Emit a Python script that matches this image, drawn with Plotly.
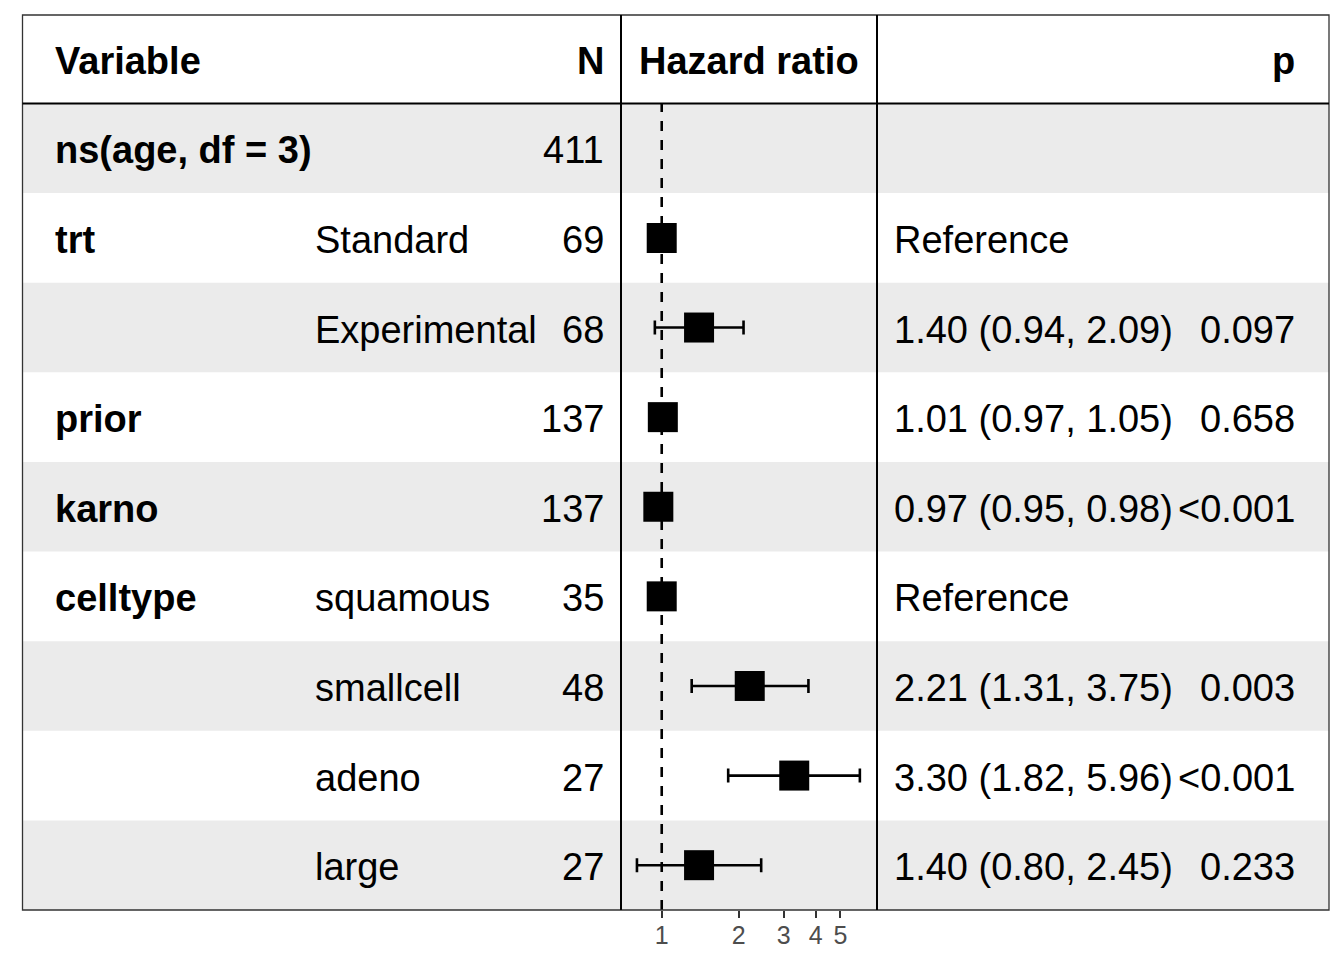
import plotly.graph_objects as go

# ---------------- data ----------------
variables = ["ns(age, df = 3)", "trt", "", "prior", "karno", "celltype", "", "", ""]
levels = ["", "Standard", "Experimental", "", "", "squamous", "smallcell", "adeno", "large"]
n_obs = [411, 69, 68, 137, 137, 35, 48, 27, 27]
hr = [None, 1.0, 1.40, 1.01, 0.97, 1.0, 2.21, 3.30, 1.40]
ci_low = [None, None, 0.94, 0.97, 0.95, None, 1.31, 1.82, 0.80]
ci_high = [None, None, 2.09, 1.05, 0.98, None, 3.75, 5.96, 2.45]
p_text = ["", "", "0.097", "0.658", "<0.001", "", "0.003", "<0.001", "0.233"]
headers = ["Variable", "N", "Hazard ratio", "p"]
tick_vals = [1, 2, 3, 4, 5]

# page body has an 8px margin: figure occupies window pixels 8..1336 x 8..952
OFF = 8
W, H = 1344 - 2 * OFF, 960 - 2 * OFF
FONT = "Liberation Sans, Arial, Helvetica, sans-serif"
FS = 38

def px(x):
    return (x - OFF) / W

def py(y):
    return 1 - (y - OFF) / H

nrows = len(variables)
row_y = [nrows - i for i in range(nrows)]  # top row = 9

# estimate labels
est_text = []
for h, l, u in zip(hr, ci_low, ci_high):
    if h is None:
        est_text.append("")
    elif l is None:
        est_text.append("Reference")
    else:
        est_text.append(f"{h:.2f} ({l:.2f}, {u:.2f})")

# points
xs, ys, eplus, eminus = [], [], [], []
for i in range(nrows):
    if hr[i] is None:
        continue
    xs.append(hr[i])
    ys.append(row_y[i])
    if ci_low[i] is None:
        eplus.append(0)
        eminus.append(0)
    else:
        eplus.append(ci_high[i] - hr[i])
        eminus.append(hr[i] - ci_low[i])

fig = go.Figure()
fig.add_trace(go.Scatter(
    x=xs, y=ys, mode="markers",
    marker=dict(symbol="square", size=30, color="black", line=dict(width=0)),
    error_x=dict(type="data", symmetric=False, array=eplus, arrayminus=eminus,
                 color="black", thickness=2.6, width=7),
    showlegend=False, hoverinfo="skip",
))

shapes = []
# stripes
for i in range(nrows):
    if i % 2 == 0:
        shapes.append(dict(type="rect", xref="paper", yref="y",
                           x0=px(22), x1=px(1329), y0=row_y[i] - 0.5, y1=row_y[i] + 0.5,
                           fillcolor="#EBEBEB", line=dict(width=0), layer="below"))
# dashed reference line
shapes.append(dict(type="line", xref="x", yref="y", x0=1, x1=1, y0=0.5, y1=nrows + 0.5,
                   line=dict(color="black", width=2.6, dash="10px,9px"), layer="below"))
# borders
shapes.append(dict(type="rect", xref="paper", yref="paper",
                   x0=px(22.5), x1=px(1329), y0=py(15), y1=py(910),
                   line=dict(color="#333333", width=1.3), layer="above"))
for xv in (621, 877):
    shapes.append(dict(type="line", xref="paper", yref="paper",
                       x0=px(xv), x1=px(xv), y0=py(15), y1=py(910),
                       line=dict(color="black", width=2), layer="above"))
shapes.append(dict(type="line", xref="paper", yref="paper",
                   x0=px(22.5), x1=px(1329), y0=py(103.5), y1=py(103.5),
                   line=dict(color="black", width=2), layer="above"))

annotations = []
def add_text(text, x, y, anchor, yref="y", bold=False, yshift=0):
    annotations.append(dict(
        text=f"<b>{text}</b>" if bold else text,
        x=px(x), y=y, xref="paper", yref=yref, xanchor=anchor, yanchor="middle",
        showarrow=False, font=dict(family=FONT, size=FS, color="black"),
        borderpad=0, borderwidth=0, yshift=yshift,
    ))

hy = py(61)
add_text(headers[0], 55, hy, "left", yref="paper", bold=True)
add_text(headers[1], 604, hy, "right", yref="paper", bold=True)
add_text(headers[2], 749, hy, "center", yref="paper", bold=True)
add_text(headers[3], 1295, hy, "right", yref="paper", bold=True)

for i in range(nrows):
    y = row_y[i]
    if variables[i]:
        add_text(variables[i], 55, y, "left", bold=True, yshift=-2)
    if levels[i]:
        add_text(levels[i], 315, y, "left", yshift=-2)
    add_text(str(n_obs[i]), 604, y, "right", yshift=-2)
    if est_text[i]:
        add_text(est_text[i], 894, y, "left", yshift=-2)
    if p_text[i]:
        add_text(p_text[i], 1295, y, "right", yshift=-2)

fig.update_layout(
    width=W, height=H,
    margin=dict(l=0, r=0, t=0, b=0),
    paper_bgcolor="white", plot_bgcolor="rgba(0,0,0,0)",
    shapes=shapes, annotations=annotations,
    xaxis=dict(type="log", domain=[px(621), px(877)],
               range=[-0.1593, 0.8423],
               tickvals=tick_vals, ticktext=[str(t) for t in tick_vals],
               ticks="outside", ticklen=7, tickwidth=2, tickcolor="#333333",
               ticklabelstandoff=-4,
               tickfont=dict(family=FONT, size=25, color="#4D4D4D"),
               showgrid=False, zeroline=False, showline=False, fixedrange=True),
    yaxis=dict(domain=[py(910), py(103.5)], range=[0.5, nrows + 0.5],
               showticklabels=False, ticks="", showgrid=False, zeroline=False,
               showline=False, fixedrange=True),
    showlegend=False,
)

fig.write_html("out.html")
